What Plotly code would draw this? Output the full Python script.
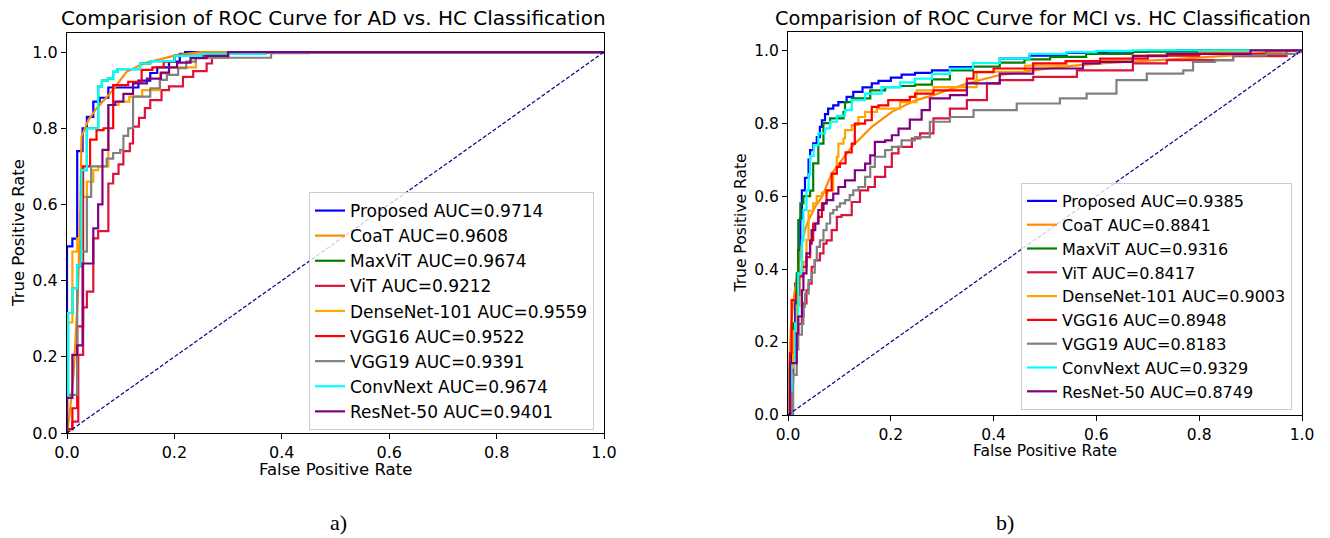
import plotly.graph_objects as go

# ---------------- data ----------------
MODELS = ["Proposed", "CoaT", "MaxViT", "ViT", "DenseNet-101", "VGG16", "VGG19", "ConvNext", "ResNet-50"]
AD_AUC = [0.9714, 0.9608, 0.9674, 0.9212, 0.9559, 0.9522, 0.9391, 0.9674, 0.9401]
MCI_AUC = [0.9385, 0.8841, 0.9316, 0.8417, 0.9003, 0.8948, 0.8183, 0.9329, 0.8749]
TICK_VALS = [0.0, 0.2, 0.4, 0.6, 0.8, 1.0]
TICK_TEXT = ["0.0", "0.2", "0.4", "0.6", "0.8", "1.0"]
DIAG = [0.0, 1.0]

# AD vs HC
ad_proposed_fpr = [0, 0, .010, .019, .029, .037, .049, .061, .077, .133, .155, .168, .19, .21, .22, 1.0]
ad_proposed_tpr = [0, .49, .51, .74, .80, .83, .87, .88, .907, .925, .945, .96, .975, .995, 1.0, 1.0]
ad_coat_fpr = [0, .005, .012, .020, .025, .027, .040, .055, .080, .099, .111, .142, .204, .25, 1.0]
ad_coat_tpr = [0, .05, .15, .35, .60, .778, .822, .852, .891, .925, .948, .970, .992, 1.0, 1.0]
ad_maxvit_fpr = [0, 0, .002, .010, .019, .027, .037, .058, .065, .076, .086, .094, .136, .155, .20, .25, .37, 1.0]
ad_maxvit_tpr = [0, .10, .315, .38, .44, .69, .80, .91, .925, .93, .948, .955, .97, .976, .99, .995, 1.0, 1.0]
ad_vit_fpr = [0, 0, .010, .021, .030, .037, .049, .058, .077, .086, .096, .105, .117, .123, .134, .145, .155, .176, .19, .216, .235, .26, .27, .30, 1.0]
ad_vit_tpr = [0, .01, .03, .205, .33, .371, .511, .53, .655, .68, .705, .74, .76, .804, .827, .853, .874, .90, .91, .935, .95, .97, .985, 1.0, 1.0]
ad_densenet_fpr = [0, 0, .010, .019, .027, .037, .049, .058, .077, .096, .116, .14, .173, .19, .24, .30, 1.0]
ad_densenet_tpr = [0, .29, .476, .511, .62, .66, .69, .70, .861, .87, .883, .90, .944, .96, .985, 1.0, 1.0]
ad_vgg16_fpr = [0, 0, .010, .019, .030, .043, .055, .068, .086, .114, .139, .159, .18, .20, .30, 1.0]
ad_vgg16_tpr = [0, .01, .065, .28, .70, .77, .795, .80, .913, .922, .953, .96, .975, .99, 1.0, 1.0]
ad_vgg19_fpr = [0, 0, .019, .027, .037, .045, .074, .086, .099, .105, .114, .123, .155, .173, .186, .207, .222, .24, .38, .45, 1.0]
ad_vgg19_tpr = [0, .10, .437, .476, .62, .70, .72, .735, .743, .78, .80, .883, .905, .927, .94, .958, .975, .985, .997, 1.0, 1.0]
ad_convnext_fpr = [0, 0, .002, .010, .019, .027, .037, .058, .065, .076, .086, .094, .136, .155, .20, .25, .37, 1.0]
ad_convnext_tpr = [0, .10, .315, .38, .44, .69, .80, .91, .925, .93, .948, .955, .97, .976, .99, .995, 1.0, 1.0]
ad_resnet_fpr = [0, 0, .010, .019, .029, .049, .058, .066, .077, .090, .105, .123, .149, .175, .19, .205, .23, .26, .30, 1.0]
ad_resnet_tpr = [0, .092, .205, .23, .445, .537, .60, .743, .861, .87, .89, .918, .93, .946, .96, .972, .984, .99, 1.0, 1.0]

# MCI vs HC
mci_proposed_fpr = [0, 0, .007, .014, .020, .024, .027, .033, .040, .043, .049, .056, .062, .066, .072, .078, .088, .098, .114, .127, .145, .163, .176, .20, .221, .247, .28, .315, .36, .412, .47, .542, .62, .70, .756, 1.0]
mci_proposed_tpr = [0, .105, .224, .36, .452, .54, .616, .65, .70, .726, .745, .762, .79, .808, .825, .840, .849, .858, .872, .886, .898, .909, .916, .925, .933, .938, .945, .954, .965, .977, .985, .993, .996, .998, 1.0, 1.0]
mci_coat_fpr = [0, .002, .006, .012, .020, .023, .027, .033, .040, .053, .066, .085, .124, .163, .202, .247, .283, .348, .412, .477, .542, .607, .737, .866, .95, 1.0]
mci_coat_tpr = [0, .12, .25, .33, .40, .425, .47, .507, .534, .571, .598, .662, .735, .790, .831, .862, .877, .909, .932, .945, .956, .964, .974, .986, .995, 1.0]
mci_maxvit_fpr = [0, .004, .010, .017, .020, .024, .030, .043, .049, .059, .069, .082, .108, .111, .124, .160, .189, .218, .247, .28, .315, .36, .412, .46, .51, .58, .671, .80, 1.0]
mci_maxvit_tpr = [0, .105, .251, .388, .534, .58, .60, .615, .690, .744, .80, .813, .831, .858, .868, .890, .899, .902, .906, .92, .945, .955, .966, .975, .982, .99, .996, 1.0, 1.0]
mci_vit_fpr = [0, .005, .010, .020, .027, .030, .036, .040, .046, .052, .062, .069, .075, .085, .095, .104, .124, .140, .156, .169, .189, .202, .215, .241, .257, .283, .315, .348, .387, .412, .477, .562, .671, .737, .866, .97, 1.0]
mci_vit_tpr = [0, .09, .22, .25, .27, .306, .342, .36, .406, .424, .443, .470, .479, .507, .543, .548, .584, .616, .625, .653, .680, .717, .735, .758, .772, .813, .840, .863, .909, .918, .927, .945, .964, .973, .984, 1.0, 1.0]
mci_densenet_fpr = [0, .004, .010, .017, .022, .030, .036, .040, .049, .056, .066, .077, .088, .095, .098, .108, .111, .124, .137, .150, .173, .218, .25, .283, .367, .461, .542, .671, .80, .9, 1.0]
mci_densenet_tpr = [0, .13, .23, .30, .38, .42, .48, .56, .58, .60, .61, .616, .662, .708, .744, .758, .781, .795, .817, .831, .840, .858, .89, .899, .941, .958, .97, .986, .995, 1.0, 1.0]
mci_vgg16_fpr = [0, .004, .007, .016, .022, .027, .036, .043, .049, .059, .066, .075, .085, .095, .101, .112, .124, .130, .150, .163, .176, .195, .237, .247, .283, .348, .361, .40, .477, .54, .607, .70, .80, .93, 1.0]
mci_vgg16_tpr = [0, .17, .315, .33, .38, .406, .433, .479, .525, .543, .58, .616, .662, .68, .69, .72, .744, .799, .808, .845, .849, .863, .872, .881, .890, .922, .94, .95, .964, .97, .977, .985, .99, .998, 1.0]
mci_vgg19_fpr = [0, .010, .017, .020, .027, .030, .033, .040, .046, .052, .056, .062, .069, .075, .082, .088, .095, .101, .111, .120, .127, .137, .150, .160, .169, .189, .202, .221, .247, .276, .315, .361, .445, .529, .581, .639, .698, .769, .788, .831, .866, .93, .99, 1.0]
mci_vgg19_tpr = [0, .11, .18, .22, .25, .297, .333, .37, .39, .424, .461, .479, .507, .525, .553, .562, .571, .58, .589, .603, .616, .625, .653, .68, .708, .726, .735, .753, .762, .804, .817, .836, .854, .868, .881, .918, .936, .945, .968, .973, .986, .99, .995, 1.0]
mci_convnext_fpr = [0, .004, .007, .014, .020, .027, .030, .036, .040, .043, .050, .059, .072, .082, .095, .111, .124, .150, .182, .218, .247, .28, .315, .36, .412, .47, .542, .60, .67, 1.0]
mci_convnext_tpr = [0, .068, .142, .251, .388, .479, .562, .616, .66, .71, .74, .772, .786, .804, .82, .836, .863, .881, .899, .912, .922, .935, .950, .965, .977, .99, .995, .998, 1.0, 1.0]
mci_resnet_fpr = [0, .004, .017, .020, .027, .030, .036, .043, .046, .053, .059, .069, .075, .088, .098, .111, .130, .150, .160, .169, .189, .202, .215, .237, .26, .276, .315, .348, .412, .477, .574, .607, .671, .737, .90, 1.0]
mci_resnet_tpr = [0, .142, .224, .27, .342, .388, .443, .47, .507, .525, .562, .58, .589, .607, .625, .643, .671, .689, .712, .749, .753, .767, .785, .81, .836, .868, .877, .909, .936, .950, .964, .968, .984, .99, 1.0, 1.0]

AD_CURVES = [
    (ad_proposed_fpr, ad_proposed_tpr), (ad_coat_fpr, ad_coat_tpr), (ad_maxvit_fpr, ad_maxvit_tpr),
    (ad_vit_fpr, ad_vit_tpr), (ad_densenet_fpr, ad_densenet_tpr), (ad_vgg16_fpr, ad_vgg16_tpr),
    (ad_vgg19_fpr, ad_vgg19_tpr), (ad_convnext_fpr, ad_convnext_tpr), (ad_resnet_fpr, ad_resnet_tpr),
]
MCI_CURVES = [
    (mci_proposed_fpr, mci_proposed_tpr), (mci_coat_fpr, mci_coat_tpr), (mci_maxvit_fpr, mci_maxvit_tpr),
    (mci_vit_fpr, mci_vit_tpr), (mci_densenet_fpr, mci_densenet_tpr), (mci_vgg16_fpr, mci_vgg16_tpr),
    (mci_vgg19_fpr, mci_vgg19_tpr), (mci_convnext_fpr, mci_convnext_tpr), (mci_resnet_fpr, mci_resnet_tpr),
]

# ---------------- style ----------------
COLORS = ["#0000FF", "#FF8C00", "#008000", "#DC143C", "#FFA500", "#FF0000", "#808080", "#00FFFF", "#800080"]
SMOOTH = [False, True, False, False, False, False, False, False, False]
FONT = "DejaVu Sans"
W, H = 1330, 538


def px_x(p):
    return p / W


def px_y(p):
    return 1 - p / H


fig = go.Figure()

panels = [
    ("x", "y", "legend", AD_CURVES, AD_AUC),
    ("x2", "y2", "legend2", MCI_CURVES, MCI_AUC),
]
for xa, ya, lg, curves, aucs in panels:
    for i, (fpr, tpr) in enumerate(curves):
        fig.add_trace(go.Scatter(
            x=fpr, y=tpr, mode="lines",
            line=dict(color=COLORS[i], width=2.2, shape="linear" if SMOOTH[i] else "hv"),
            name=f"{MODELS[i]} AUC={aucs[i]:.4f}",
            xaxis=xa, yaxis=ya, legend=lg, hoverinfo="skip",
        ))
    fig.add_trace(go.Scatter(
        x=DIAG, y=DIAG, mode="lines",
        line=dict(color="#000080", width=1.2, dash="4px,2px"),
        showlegend=False, xaxis=xa, yaxis=ya, hoverinfo="skip",
    ))

axis_common = dict(
    showline=True, mirror=True, linecolor="#000000", linewidth=1,
    ticks="outside", ticklen=5, tickwidth=1, tickcolor="#000000",
    showgrid=False, zeroline=False, tickvals=TICK_VALS, ticktext=TICK_TEXT,
    automargin=False,
)

fig.update_layout(
    width=W, height=H,
    margin=dict(l=0, r=0, t=0, b=0, pad=0, autoexpand=False),
    paper_bgcolor="white", plot_bgcolor="white",
    showlegend=True,
    xaxis=dict(domain=[px_x(67), px_x(604)], range=[0, 1], anchor="y",
               tickfont=dict(family=FONT, size=16, color="#000000"), **axis_common),
    yaxis=dict(domain=[px_y(433), px_y(33)], range=[0, 1.05], anchor="x",
               tickfont=dict(family=FONT, size=16, color="#000000"), **axis_common),
    xaxis2=dict(domain=[px_x(788), px_x(1302)], range=[0, 1], anchor="y2",
                tickfont=dict(family=FONT, size=15.5, color="#000000"), **axis_common),
    yaxis2=dict(domain=[px_y(415), px_y(32)], range=[0, 1.05], anchor="x2",
                tickfont=dict(family=FONT, size=15.5, color="#000000"), **axis_common),
    legend=dict(
        x=px_x(309), y=px_y(192), xanchor="left", yanchor="top",
        bgcolor="rgba(255,255,255,0.8)", bordercolor="#cccccc", borderwidth=1,
        font=dict(family=FONT, size=17, color="#000000"), traceorder="normal",
    ),
    legend2=dict(
        x=px_x(1021), y=px_y(183), xanchor="left", yanchor="top",
        bgcolor="rgba(255,255,255,0.8)", bordercolor="#cccccc", borderwidth=1,
        font=dict(family=FONT, size=16, color="#000000"), traceorder="normal",
    ),
)

annotations = [
    dict(text="Comparision of ROC Curve for AD vs. HC Classification", x=px_x(333), y=px_y(18),
         font=dict(family=FONT, size=20, color="#000000")),
    dict(text="Comparision of ROC Curve for MCI vs. HC Classification", x=px_x(1043), y=px_y(18),
         font=dict(family=FONT, size=19.4, color="#000000")),
    dict(text="False Positive Rate", x=px_x(335.5), y=px_y(469),
         font=dict(family=FONT, size=16.5, color="#000000")),
    dict(text="False Positive Rate", x=px_x(1045), y=px_y(451),
         font=dict(family=FONT, size=15.5, color="#000000")),
    dict(text="True Positive Rate", x=px_x(18), y=px_y(233), textangle=-90,
         font=dict(family=FONT, size=16.5, color="#000000")),
    dict(text="True Positive Rate", x=px_x(740), y=px_y(223.5), textangle=-90,
         font=dict(family=FONT, size=15.5, color="#000000")),
    dict(text="a)", x=px_x(338), y=px_y(522),
         font=dict(family="Liberation Serif", size=22, color="#000000")),
    dict(text="b)", x=px_x(1005), y=px_y(522),
         font=dict(family="Liberation Serif", size=22, color="#000000")),
]
for a in annotations:
    fig.add_annotation(xref="paper", yref="paper", showarrow=False,
                       xanchor="center", yanchor="middle", **a)

fig.write_html("out.html")
